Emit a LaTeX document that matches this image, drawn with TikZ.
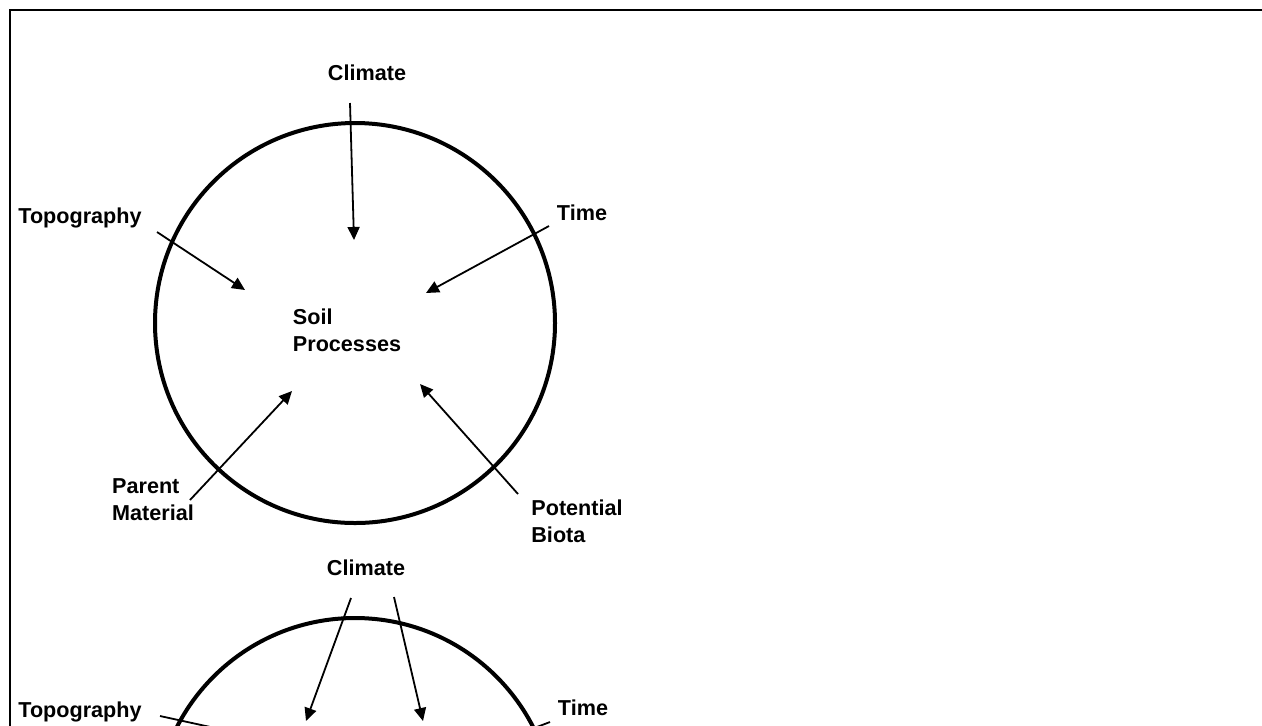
\documentclass[tikz,border=0pt]{standalone}
\usepackage{fontspec}
\setmainfont{Liberation Sans}
\usetikzlibrary{arrows.meta,positioning}

\tikzset{
    factor/.style={font=\fontsize{10.8}{13.5}\selectfont\bfseries, align=left, inner sep=0pt},
    inflow/.style={line width=0.9pt, -{Triangle[length=6.5pt,width=6pt]}},
    ring/.style={circle, draw, line width=2pt, minimum size=200pt, inner sep=0pt}
}

\begin{document}
\begin{tikzpicture}[x=0.5pt,y=-0.5pt]
    \clip (0,0) rectangle (1262,725);
    \draw[line width=1.2pt] (10,730) -- (10,10) -- (1270,10);

    % first circle
    \node[ring] (soil1) at (355,323) {};
    \node[factor] (proc1) at (347,330) {Soil\\Processes};
    \node[factor] (clim1) at (367,73) {Climate};
    \node[factor] (topo1) at (80,218) {Topography};
    \node[factor] (time1) at (582,213) {Time};
    \node[factor] (pmat1) at (153,500) {Parent\\Material};
    \node[factor] (biota1) at (577,521) {Potential\\Biota};

    \coordinate (clim1s) at (350,103);  \coordinate (clim1e) at (354,240);
    \coordinate (topo1s) at (157,232);  \coordinate (topo1e) at (245,290);
    \coordinate (time1s) at (549,226);  \coordinate (time1e) at (426,293);
    \coordinate (pmat1s) at (190,500);  \coordinate (pmat1e) at (292,391);
    \coordinate (biota1s) at (518,494); \coordinate (biota1e) at (420,384);

    \foreach \f in {clim1,topo1,time1,pmat1,biota1}
    {
        \draw[inflow] (\f s) -- (\f e);
    };

    % second circle
    \node[ring] (soil2) at (355,818) {};
    \node[factor] (clim2) at (366,568) {Climate};
    \node[factor] (topo2) at (80,712) {Topography};
    \node[factor] (time2) at (583,708) {Time};

    \coordinate (clim2as) at (351,598); \coordinate (clim2ae) at (306,721);
    \coordinate (clim2bs) at (394,597); \coordinate (clim2be) at (423,721);
    \coordinate (topo2s) at (160,716);  \coordinate (topo2e) at (270,740);
    \coordinate (time2s) at (550,722);  \coordinate (time2e) at (450,760);

    \foreach \f in {clim2a,clim2b,topo2,time2}
    {
        \draw[inflow] (\f s) -- (\f e);
    };
\end{tikzpicture}
\end{document}
